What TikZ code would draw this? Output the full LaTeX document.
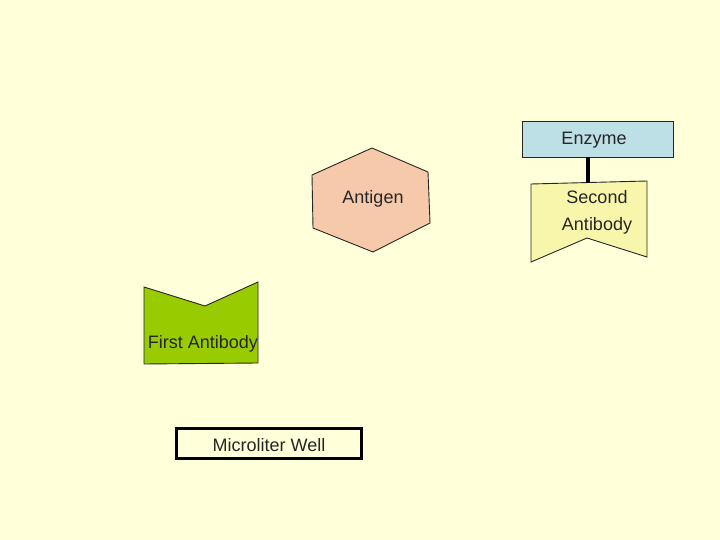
\documentclass[tikz,border=0pt]{standalone}
\usepackage{fontspec}
\setmainfont{Liberation Sans}
\usetikzlibrary{
    positioning,
    calc
}
\definecolor{bgyellow}{RGB}{255,255,217}
\definecolor{enzymeblue}{RGB}{189,224,230}
\definecolor{antigensalmon}{RGB}{246,201,170}
\definecolor{secondyellow}{RGB}{248,246,170}
\definecolor{firstgreen}{RGB}{153,204,0}
\tikzset{
    % Colors
    enzyme color/.style={fill=enzymeblue},
    antigen color/.style={fill=antigensalmon},
    second color/.style={fill=secondyellow},
    first color/.style={fill=firstgreen},
    %
    % Shapes
    outline/.style={draw=black!85,line width=0.9pt},
    labelbox/.style={rectangle,outline,inner sep=0pt},
    %
    % Links
    link/.style={line width=4pt,black},
}
\tikzstyle{every node}=[font=\fontsize{18}{20}\selectfont,text=black!85]

\begin{document}
\begin{tikzpicture}[x=1pt,y=-1pt]
        \fill[bgyellow] (0,0) rectangle (720,540);
        \useasboundingbox (0,0) rectangle (720,540);
        % antigen
        \filldraw[outline,antigen color] (372,148) -- (428,172) -- (430,223) -- (373,252) -- (313,228) -- (312,175) -- cycle;
        \node (antigen) at (373,198.5) {Antigen};
        % second antibody with enzyme
        \node[labelbox,enzyme color,minimum width=151pt,minimum height=36pt] (enzyme) at (598,139) {};
        \node at (594,140.5) {Enzyme};
        \filldraw[outline,second color] (531,184) -- (647,181) -- (647,257) -- (587,238) -- (531,262) -- cycle;
        \coordinate (second top) at (enzyme.south |- 0,183);
        \draw[link] (enzyme.south) ++(-10,0) coordinate (link top) (link top) -- (link top |- second top);
        \node[align=center,font=\fontsize{18}{27}\selectfont] (second) at (597,212.5) {Second\\Antibody};
        % first antibody
        \filldraw[outline,first color] (144,287) -- (205,306) -- (258,282) -- (258,363) -- (144,364) -- cycle;
        \node (first) at (203,343.5) {First Antibody};
        % well
        \node[labelbox,draw=black,line width=2.5pt,minimum width=185pt,minimum height=30pt] (well) at (269,443.5) {};
        \node at (269,445) {Microliter Well};
    \end{tikzpicture}
\end{document}
